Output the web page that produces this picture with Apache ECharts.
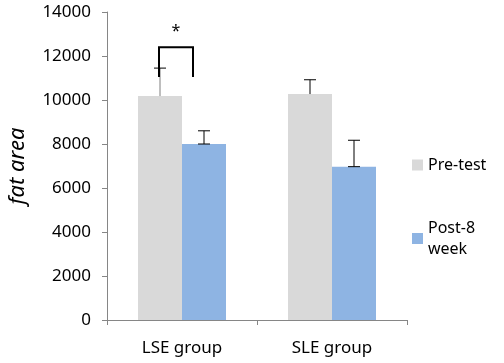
<!DOCTYPE html>
<html>
<head>
<meta charset="utf-8">
<script src="https://cdn.jsdelivr.net/npm/echarts@6/dist/echarts.min.js"></script>
<style>
  html, body { margin: 0; padding: 0; background: #fff; }
  #chart { width: 504px; height: 363px; }
</style>
</head>
<body>
<div id="chart"></div>
<script>
// data
var categories = ['LSE group', 'SLE group'];
var preTest = [10180, 10270];
var post8Week = [8000, 6970];
var preTestErr = [1270, 650];
var post8WeekErr = [600, 1200];
// significance bracket over LSE group (values on the y scale)
var bracketTop = 12400;
var bracketBottom = 11050;
var starValue = 13100;

var barW = 44;
var font = 'Noto Sans';
var axisGray = '#868686';

var chart = echarts.init(document.getElementById('chart'));

// error bar renderer, side = -1 for left bar, +1 for right bar
function errorBar(values, errs, side, bottomCap, stemColor) {
    return function (params, api) {
        var i = api.value(0);
        var top = api.coord([i, values[i] + errs[i]]);
        var base = api.coord([i, values[i]]);
        var x = top[0] + side * barW / 2;
        var half = 6;
        var children = [
            { type: 'line', shape: { x1: x, y1: base[1], x2: x, y2: top[1] },
              style: { stroke: (stemColor && stemColor[i]) || '#000', lineWidth: 1 } },
            { type: 'line', shape: { x1: x - half, y1: top[1], x2: x + half, y2: top[1] },
              style: { stroke: '#000', lineWidth: 1 } }
        ];
        if (bottomCap) {
            children.push({ type: 'line', shape: { x1: x - half, y1: base[1], x2: x + half, y2: base[1] },
              style: { stroke: '#000', lineWidth: 1 } });
        }
        return { type: 'group', children: children };
    };
}

var option = {
    animation: false,
    grid: { left: 107, right: 97, top: 12, bottom: 43, containLabel: false, outerBoundsMode: 'none' },
    legend: [
        {
            data: ['Pre-test'],
            orient: 'vertical',
            left: 407, top: 152,
            itemWidth: 11, itemHeight: 11,
            icon: 'rect',
            textStyle: { fontFamily: font, fontSize: 16, color: '#000', padding: [8, 0, 0, 0] }
        },
        {
            data: ['Post-8 week'],
            orient: 'vertical',
            left: 407, top: 198,
            itemWidth: 11, itemHeight: 11,
            icon: 'rect',
            formatter: function () { return 'Post-8\nweek'; },
            textStyle: { fontFamily: font, fontSize: 16, color: '#000', lineHeight: 21, padding: [29, 0, 0, 0] }
        }
    ],
    xAxis: {
        type: 'category',
        data: categories,
        axisLine: { lineStyle: { color: axisGray } },
        axisTick: { show: true, length: 5, lineStyle: { color: axisGray } },
        axisLabel: { fontFamily: font, fontSize: 17, color: '#000', margin: 20 }
    },
    yAxis: {
        type: 'value',
        min: 0, max: 14000, interval: 2000,
        name: 'fat area',
        nameLocation: 'middle',
        nameGap: 78,
        nameTextStyle: { fontFamily: font, fontSize: 22, fontStyle: 'italic', color: '#000' },
        axisLine: { show: true, lineStyle: { color: axisGray } },
        axisTick: { show: true, length: 5, lineStyle: { color: axisGray } },
        axisLabel: { fontFamily: font, fontSize: 17, color: '#000', margin: 16,
                     formatter: function (v) { return String(v); } },
        splitLine: { show: false }
    },
    series: [
        {
            name: 'Pre-test', type: 'bar', data: preTest,
            barWidth: barW, barGap: '0%',
            itemStyle: { color: '#d9d9d9' }
        },
        {
            name: 'Post-8 week', type: 'bar', data: post8Week,
            barWidth: barW, barGap: '0%',
            itemStyle: { color: '#8eb4e3' }
        },
        {
            type: 'custom', silent: true, z: 5,
            data: [[0], [1]],
            renderItem: errorBar(preTest, preTestErr, -1, false, ['#7f7f7f', '#000'])
        },
        {
            type: 'custom', silent: true, z: 5,
            data: [[0], [1]],
            renderItem: errorBar(post8Week, post8WeekErr, 1, true)
        },
        {
            type: 'custom', silent: true, z: 6,
            data: [[0]],
            renderItem: function (params, api) {
                var i = api.value(0);
                var t = api.coord([i, bracketTop]);
                var b = api.coord([i, bracketBottom]);
                var s = api.coord([i, starValue]);
                var xl = t[0] - barW / 2 - 1;
                var xr = t[0] + 11;
                return {
                    type: 'group',
                    children: [
                        { type: 'polyline',
                          shape: { points: [[xl, b[1]], [xl, t[1]], [xr, t[1]], [xr, b[1]]] },
                          style: { stroke: '#000', lineWidth: 2, fill: null } },
                        { type: 'text',
                          style: { text: '*', x: (xl + xr) / 2, y: s[1], fontFamily: font, fontSize: 16,
                                   fill: '#000', align: 'center', verticalAlign: 'middle' } }
                    ]
                };
            }
        }
    ]
};

chart.setOption(option);
window.addEventListener('resize', chart.resize);
</script>
</body>
</html>
